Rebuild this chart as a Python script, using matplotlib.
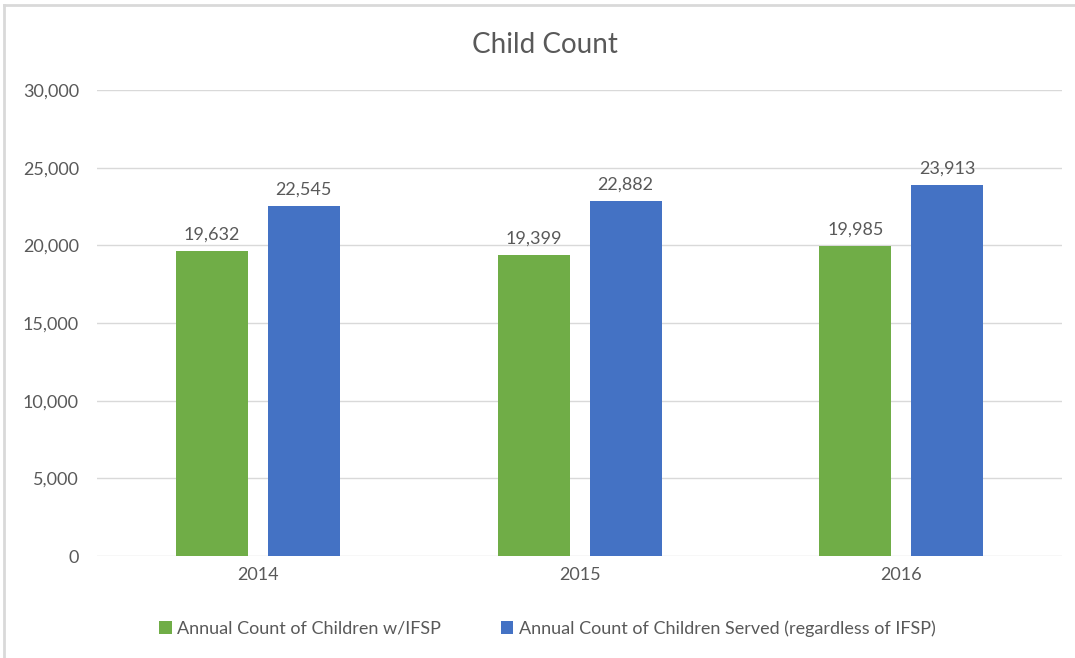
""" Child Count grouped bar chart """

import numpy as np
import matplotlib.pyplot as plt
from matplotlib.lines import Line2D
from matplotlib.ticker import FuncFormatter

""" DATA """
years = ["2014", "2015", "2016"]
with_ifsp = [19632, 19399, 19985]
served = [22545, 22882, 23913]
series_names = ["Annual Count of Children w/IFSP",
                "Annual Count of Children Served (regardless of IFSP)"]

GREEN = "#70AD47"
BLUE = "#4472C4"
TEXT = "#595959"

plt.rcParams['font.family'] = ['Lato', 'DejaVu Sans']

fig = plt.figure(figsize=(10.75, 6.58), dpi=100)
ax = fig.add_axes([0.0902, 0.155, 0.898, 0.708])

x = np.arange(len(years))
w = 0.224
off = 0.143
b1 = ax.bar(x - off, with_ifsp, w, color=GREEN, label=series_names[0])
b2 = ax.bar(x + off, served, w, color=BLUE, label=series_names[1])

for bars in (b1, b2):
    for rect in bars:
        h = rect.get_height()
        ax.annotate(f"{h:,.0f}", (rect.get_x() + rect.get_width() / 2, h),
                    xytext=(0, 6), textcoords="offset points",
                    ha="center", va="bottom", fontsize=13, color=TEXT)

ax.set_xlim(-0.5, 2.5)
ax.set_ylim(0, 30000)
ax.set_yticks(range(0, 30001, 5000))
ax.yaxis.set_major_formatter(FuncFormatter(lambda v, p: f"{v:,.0f}"))
ax.set_xticks(x)
ax.set_xticklabels(years)
ax.tick_params(axis="both", length=0, labelsize=13, colors=TEXT)
ax.tick_params(axis="y", pad=13)
ax.tick_params(axis="x", pad=8)
ax.grid(axis="y", color="#D9D9D9", linewidth=1)
ax.set_axisbelow(True)
for s in ax.spines.values():
    s.set_visible(False)

fig.text(0.507, 0.932, "Child Count", ha="center", va="center",
         fontsize=20, color=TEXT)

leg = fig.legend(loc="center", bbox_to_anchor=(0.509, 0.045), ncol=2,
                 frameon=False, fontsize=13, labelcolor=TEXT,
                 handlelength=0.7, handleheight=0.7, handletextpad=0.3,
                 columnspacing=3.3)

# light frame on the left and top of the chart
fig.add_artist(Line2D([0.004, 0.004], [0.0, 0.992], transform=fig.transFigure,
                      color="#D9D9D9", linewidth=2))
fig.add_artist(Line2D([0.004, 1.0], [0.992, 0.992], transform=fig.transFigure,
                      color="#D9D9D9", linewidth=2))

fig.savefig("out.png", dpi=100)
